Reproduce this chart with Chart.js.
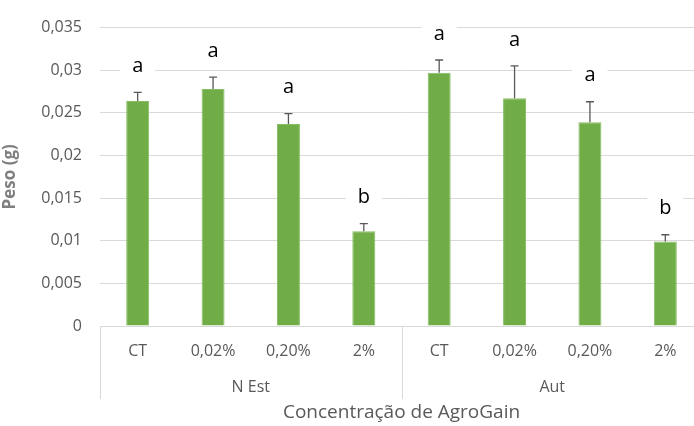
<!DOCTYPE html>
<html>
<head>
<meta charset="utf-8">
<script src="https://cdn.jsdelivr.net/npm/chart.js@4.4.1/dist/chart.umd.min.js"></script>
<style>
  html, body { margin: 0; padding: 0; background: #fff; overflow: hidden; }
  #wrap { width: 706px; height: 426px; }
</style>
</head>
<body>
<div id="wrap"><canvas id="myChart"></canvas></div>
<script>
var groups = ["N Est", "Aut"];
var doses = ["CT", "0,02%", "0,20%", "2%"];
var labels = ["CT", "0,02%", "0,20%", "2%", "CT", "0,02%", "0,20%", "2%"];
var peso = [0.0264, 0.0278, 0.0237, 0.0111, 0.0297, 0.0267, 0.0239, 0.0099];
var erro = [0.0010, 0.0014, 0.0012, 0.0009, 0.0015, 0.0038, 0.0024, 0.0008];
var letras = ["a", "a", "a", "b", "a", "a", "a", "b"];

var fmt = function(v) {
  if (v === 0) return "0";
  return v.toFixed(3).replace(/0+$/, "").replace(/\.$/, "").replace(".", ",");
};

var extras = {
  id: "extras",
  afterDatasetsDraw: function(chart) {
    var ctx = chart.ctx, x = chart.scales.x, y = chart.scales.y;
    ctx.save();
    // error bars
    for (var i = 0; i < peso.length; i++) {
      var px = x.getPixelForValue(i);
      var y0 = y.getPixelForValue(peso[i]);
      var y1 = y.getPixelForValue(peso[i] + erro[i]);
      ctx.strokeStyle = "#595959";
      ctx.lineWidth = 1.3;
      ctx.beginPath();
      ctx.moveTo(px, y0); ctx.lineTo(px, y1);
      ctx.moveTo(px - 4, y1); ctx.lineTo(px + 4, y1);
      ctx.stroke();
      // letter
      ctx.font = "20px 'Open Sans'";
      ctx.textAlign = "center";
      ctx.textBaseline = "middle";
      var ly = y1 - 26;
      var w = ctx.measureText(letras[i]).width;
      ctx.fillStyle = "#fff";
      ctx.fillRect(px - w / 2 - 12, ly - 11, w + 24, 22);
      ctx.fillStyle = "#000";
      ctx.fillText(letras[i], px, ly);
    }
    // group separators and labels
    var n = doses.length;
    var step = x.getPixelForValue(1) - x.getPixelForValue(0);
    var bottom = chart.chartArea.bottom;
    ctx.strokeStyle = "#d9d9d9";
    ctx.lineWidth = 1;
    for (var g = 0; g <= groups.length; g++) {
      var bx = Math.round(x.getPixelForValue(g * n) - step / 2) + 0.5;
      ctx.beginPath();
      ctx.moveTo(bx, bottom); ctx.lineTo(bx, bottom + 73);
      ctx.stroke();
    }
    ctx.fillStyle = "#595959";
    ctx.font = "16px 'Open Sans'";
    for (var g2 = 0; g2 < groups.length; g2++) {
      var cx = (x.getPixelForValue(g2 * n) + x.getPixelForValue(g2 * n + n - 1)) / 2;
      ctx.fillText(groups[g2], cx, bottom + 61);
    }
    ctx.restore();
  }
};

new Chart(document.getElementById("myChart"), {
  type: "bar",
  data: {
    labels: labels,
    datasets: [{
      label: "Peso (g)",
      data: peso,
      backgroundColor: "#70ad47",
      borderColor: "#86bd62",
      borderWidth: 1,
      categoryPercentage: 1,
      barPercentage: 0.305
    }]
  },
  options: {
    responsive: true,
    maintainAspectRatio: false,
    animation: false,
    layout: { padding: { top: 20, right: 3, left: 0, bottom: 0 } },
    plugins: { legend: { display: false }, tooltip: { enabled: false } },
    scales: {
      x: {
        grid: { display: false, drawTicks: false },
        border: { display: true, color: "#d9d9d9" },
        ticks: { color: "#595959", font: { family: "'Open Sans'", size: 16 }, padding: 16, maxRotation: 0 },
        title: {
          display: true, text: "Concentração de AgroGain", color: "#595959",
          font: { family: "'Open Sans'", size: 19 }, padding: { top: 0, bottom: 2 }
        },
        afterFit: function(s) { s.height = 100; }
      },
      y: {
        min: 0, max: 0.035,
        ticks: { stepSize: 0.005, color: "#595959", font: { family: "'Open Sans'", size: 16 }, padding: 18, callback: function(v) { return fmt(v); } },
        grid: { color: "#d9d9d9", drawTicks: false },
        border: { display: false },
        title: {
          display: true, text: "Peso (g)", color: "#7f7f7f",
          font: { family: "'Open Sans'", size: 17, weight: "bold" }, padding: { top: 0, bottom: 10 }
        },
        afterFit: function(s) { s.width = 100; }
      }
    }
  },
  plugins: [extras]
});
</script>
</body>
</html>
